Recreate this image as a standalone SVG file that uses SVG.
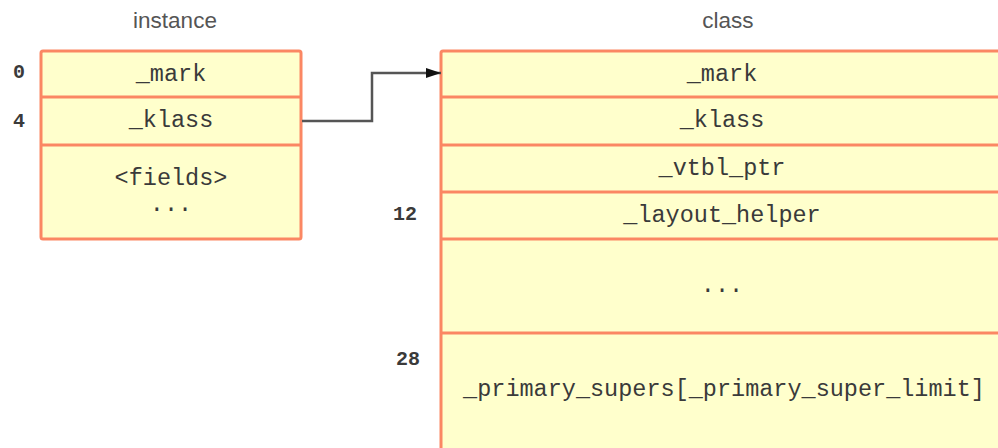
<svg xmlns="http://www.w3.org/2000/svg" width="998" height="448" viewBox="0 0 998 448">
  <style>
    .box { fill: #ffffcc; stroke: #fb8763; stroke-width: 3; }
    .sep { stroke: #fb8763; stroke-width: 3; fill: none; }
    .field { font-family: "Liberation Mono", "DejaVu Sans Mono", monospace; font-size: 23.5px; fill: #3a3a3a; text-anchor: middle; }
    .offset { font-family: "Liberation Mono", "DejaVu Sans Mono", monospace; font-size: 20px; font-weight: bold; fill: #3a3a3a; }
    .title { font-family: "Liberation Sans", Arial, sans-serif; font-size: 22.5px; fill: #555555; text-anchor: middle; }
    .link { stroke: #555555; stroke-width: 2.5; fill: none; }
  </style>
  <defs>
    <marker id="arrow" markerUnits="userSpaceOnUse" markerWidth="16" markerHeight="12" refX="15" refY="5" orient="auto">
      <path d="M0,0 L15,5 L0,10 Z" fill="#111111"/>
    </marker>
  </defs>
  <rect width="998" height="448" fill="#ffffff"/>

  <!-- object instance layout -->
  <g id="instance">
    <text class="title" x="175" y="28">instance</text>
    <rect class="box" x="41" y="51" width="260" height="188" rx="2"/>
    <line class="sep" x1="41" y1="97" x2="301" y2="97"/>
    <line class="sep" x1="41" y1="145" x2="301" y2="145"/>
    <text class="field" x="171" y="81">_mark</text>
    <text class="field" x="171" y="127">_klass</text>
    <text class="field" x="171" y="185">&lt;fields&gt;</text>
    <text class="field" x="171" y="211">...</text>
    <text class="offset" x="13" y="78">0</text>
    <text class="offset" x="13" y="127">4</text>
  </g>

  <!-- klass layout -->
  <g id="class">
    <text class="title" x="728" y="28">class</text>
    <rect class="box" x="441" y="51" width="570" height="410" rx="2"/>
    <line class="sep" x1="441" y1="97" x2="1000" y2="97"/>
    <line class="sep" x1="441" y1="145" x2="1000" y2="145"/>
    <line class="sep" x1="441" y1="192" x2="1000" y2="192"/>
    <line class="sep" x1="441" y1="239" x2="1000" y2="239"/>
    <line class="sep" x1="441" y1="333" x2="1000" y2="333"/>
    <text class="field" x="722" y="81">_mark</text>
    <text class="field" x="722" y="127">_klass</text>
    <text class="field" x="722" y="175">_vtbl_ptr</text>
    <text class="field" x="722" y="222">_layout_helper</text>
    <text class="field" x="722" y="292">...</text>
    <text class="field" x="724" y="396">_primary_supers[_primary_super_limit]</text>
    <text class="offset" x="393" y="220">12</text>
    <text class="offset" x="396" y="365">28</text>
  </g>

  <!-- pointer from instance._klass to class -->
  <g id="connectors">
    <path class="link" d="M302,121 L372,121 L372,73 L441,73" marker-end="url(#arrow)"/>
  </g>
</svg>
